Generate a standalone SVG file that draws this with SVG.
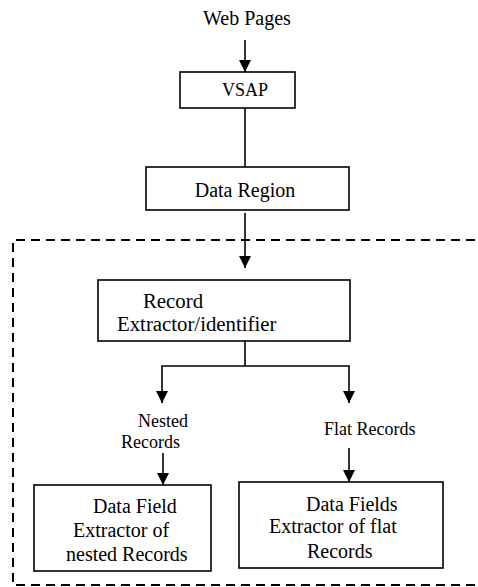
<svg xmlns="http://www.w3.org/2000/svg" width="478" height="587" viewBox="0 0 478 587">
  <defs>
    <style>
      .box { fill: #ffffff; stroke: #000000; stroke-width: 1.6; }
      .wire { fill: none; stroke: #000000; stroke-width: 1.6; }
      text { font-family: "Liberation Serif", "Times New Roman", Times, serif; font-size: 20px; fill: #000000; }
      .s { font-size: 18px; }
      .l { font-size: 20.8px; }
      .dash { fill: none; stroke: #000000; stroke-width: 2; stroke-dasharray: 9 6; }
    </style>
    <marker id="head" markerUnits="userSpaceOnUse" markerWidth="13" markerHeight="13" refX="12" refY="6" orient="auto">
      <path d="M0,0 L12,6 L0,12 z" fill="#000000"/>
    </marker>
  </defs>
  <rect width="478" height="587" fill="#ffffff"/>

  <!-- dashed enclosure of the extraction stage; its right side runs past the page edge -->
  <path class="dash" d="M520,240 H13 V585 H520"/>

  <g id="connectors">
    <line class="wire" x1="245" y1="40" x2="245" y2="72" marker-end="url(#head)"/>
    <line class="wire" x1="245" y1="108" x2="245" y2="167"/>
    <line class="wire" x1="245" y1="213" x2="245" y2="268" marker-end="url(#head)"/>
    <line class="wire" x1="245" y1="341" x2="245" y2="366"/>
    <line class="wire" x1="161.2" y1="366" x2="349.8" y2="366"/>
    <line class="wire" x1="162" y1="366" x2="162" y2="403" marker-end="url(#head)"/>
    <line class="wire" x1="349" y1="366" x2="349" y2="403" marker-end="url(#head)"/>
    <line class="wire" x1="163" y1="453" x2="163" y2="485" marker-end="url(#head)"/>
    <line class="wire" x1="349" y1="448" x2="349" y2="482" marker-end="url(#head)"/>
  </g>

  <g id="web-pages">
    <text x="247" y="25" text-anchor="middle">Web Pages</text>
  </g>

  <g id="vsap">
    <rect class="box" x="180" y="72" width="115" height="36"/>
    <text class="s" x="245" y="96" text-anchor="middle">VSAP</text>
  </g>

  <g id="data-region">
    <rect class="box" x="146" y="167" width="203" height="43"/>
    <text x="245" y="197" text-anchor="middle">Data Region</text>
  </g>

  <g id="record-extractor">
    <rect class="box" x="98" y="280" width="252" height="61"/>
    <text class="l" x="143" y="308">Record</text>
    <text class="l" x="117" y="331">Extractor/identifier</text>
  </g>

  <g id="nested-records">
    <text class="s" x="138" y="427">Nested</text>
    <text class="s" x="121" y="448">Records</text>
  </g>

  <g id="flat-records">
    <text class="s" x="324" y="435">Flat Records</text>
  </g>

  <g id="nested-field-extractor">
    <rect class="box" x="34" y="485" width="177" height="86"/>
    <text x="93" y="513">Data Field</text>
    <text x="73" y="537">Extractor of</text>
    <text x="66" y="561">nested Records</text>
  </g>

  <g id="flat-field-extractor">
    <rect class="box" x="239" y="482" width="204" height="86"/>
    <text x="306" y="511">Data Fields</text>
    <text x="269" y="533">Extractor of flat</text>
    <text x="307" y="558">Records</text>
  </g>
</svg>
